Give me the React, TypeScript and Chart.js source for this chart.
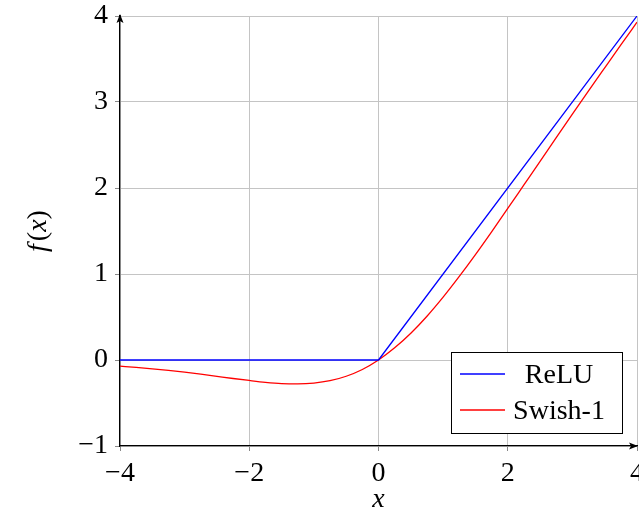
import React, { useEffect, useRef } from 'react';
import { Chart, registerables } from 'chart.js';
Chart.register(...registerables);

const swishX = [-4, -3.75, -3.5, -3.25, -3, -2.75, -2.5, -2.25, -2, -1.75, -1.5, -1.25, -1, -0.75, -0.5, -0.25, 0, 0.25, 0.5, 0.75, 1, 1.25, 1.5, 1.75, 2, 2.25, 2.5, 2.75, 3, 3.25, 3.5, 3.75, 4];
const swishY = [-0.072, -0.086, -0.103, -0.121, -0.142, -0.165, -0.19, -0.215, -0.238, -0.259, -0.274, -0.278, -0.269, -0.241, -0.189, -0.11, 0, 0.141, 0.311, 0.509, 0.731, 0.972, 1.226, 1.491, 1.762, 2.036, 2.31, 2.585, 2.858, 3.129, 3.397, 3.664, 3.928];
const reluX = [-4, 0, 4];
const reluY = [0, 0, 4];
const xTicks = [-4, -2, 0, 2, 4];
const yTicks = [-1, 0, 1, 2, 3, 4];
const seriesLabels = ['ReLU', 'Swish-1'];
const seriesColors = ['#0000ff', '#ff0000'];

const FONT = '"Liberation Serif"';
const FS = 28;
const fmt = (v: number) => (v < 0 ? '\u2212' + Math.abs(v) : String(v));

const decorPlugin = {
  id: 'decor',
  afterDraw(chart: any) {
    const ctx = chart.ctx;
    const { left, right, top, bottom } = chart.chartArea;
    ctx.save();
    ctx.fillStyle = '#000';
    ctx.strokeStyle = '#000';
    ctx.lineWidth = 1.3;
    ctx.beginPath();
    ctx.moveTo(left, top + 4);
    ctx.lineTo(left, top - 1);
    ctx.stroke();
    ctx.beginPath();
    ctx.moveTo(left, top - 2);
    ctx.lineTo(left - 3.5, top + 7);
    ctx.lineTo(left, top + 5);
    ctx.lineTo(left + 3.5, top + 7);
    ctx.closePath();
    ctx.fill();
    ctx.beginPath();
    ctx.moveTo(right + 1, bottom);
    ctx.lineTo(right - 8, bottom - 3.5);
    ctx.lineTo(right - 6, bottom);
    ctx.lineTo(right - 8, bottom + 3.5);
    ctx.closePath();
    ctx.fill();

    ctx.fillStyle = '#000';
    ctx.textBaseline = 'alphabetic';
    const italic = 'italic ' + FS + 'px ' + FONT;
    const normal = FS + 'px ' + FONT;
    const parts: [string, string][] = [[italic, 'f'], [normal, '('], [italic, 'x'], [normal, ')']];
    let total = 0;
    const widths = parts.map(([f, t]) => {
      ctx.font = f;
      const w = ctx.measureText(t).width + (t === 'f' ? 3 : 0);
      total += w;
      return w;
    });
    ctx.save();
    ctx.translate(46, (top + bottom) / 2);
    ctx.rotate(-Math.PI / 2);
    let px = -total / 2;
    parts.forEach(([f, t], i) => {
      ctx.font = f;
      ctx.textAlign = 'left';
      ctx.fillText(t, px, 0);
      px += widths[i];
    });
    ctx.restore();

    ctx.font = italic;
    ctx.textAlign = 'center';
    ctx.fillText('x', (left + right) / 2, 507);

    const bx = 451, by = 352, bw = 171, bh = 81;
    ctx.fillStyle = '#fff';
    ctx.fillRect(bx, by, bw, bh);
    ctx.strokeStyle = '#000';
    ctx.lineWidth = 1;
    ctx.strokeRect(bx + 0.5, by + 0.5, bw, bh);
    const rows = [374, 410];
    const baselines = [383, 419];
    seriesLabels.forEach((lab, i) => {
      ctx.strokeStyle = seriesColors[i];
      ctx.lineWidth = 1.3;
      ctx.beginPath();
      ctx.moveTo(460, rows[i]);
      ctx.lineTo(505, rows[i]);
      ctx.stroke();
      ctx.fillStyle = '#000';
      ctx.font = normal;
      ctx.textAlign = 'center';
      ctx.fillText(lab, 559, baselines[i]);
    });
    ctx.restore();
  },
};

export default function App() {
  const ref = useRef<HTMLCanvasElement>(null);
  useEffect(() => {
    if (!ref.current) return;
    const chart = new Chart(ref.current, {
      type: 'line',
      data: {
        datasets: [
          {
            label: seriesLabels[0],
            data: reluX.map((x, i) => ({ x, y: reluY[i] })),
            borderColor: seriesColors[0],
            borderWidth: 1.3,
            pointRadius: 0,
            fill: false,
          },
          {
            label: seriesLabels[1],
            data: swishX.map((x, i) => ({ x, y: swishY[i] })),
            borderColor: seriesColors[1],
            borderWidth: 1.3,
            pointRadius: 0,
            fill: false,
            cubicInterpolationMode: 'monotone',
          },
        ],
      },
      options: {
        responsive: false,
        animation: false,
        font: { family: FONT },
        layout: { padding: { top: 16, right: 2, left: 0, bottom: 0 } },
        plugins: { legend: { display: false }, tooltip: { enabled: false } },
        scales: {
          x: {
            type: 'linear',
            min: -4,
            max: 4,
            afterBuildTicks: (s: any) => { s.ticks = xTicks.map((v) => ({ value: v })); },
            afterFit: (s: any) => { s.height = 67; s.paddingLeft = 0; s.paddingRight = 0; },
            ticks: { callback: (v: any) => fmt(Number(v)), font: { family: FONT, size: FS }, color: '#000', padding: 6, maxRotation: 0 },
            grid: { color: '#c4c4c4', lineWidth: 1, tickLength: 5, tickColor: '#888' },
            border: { display: true, color: '#000', width: 1.3 },
          },
          y: {
            type: 'linear',
            min: -1,
            max: 4,
            afterBuildTicks: (s: any) => { s.ticks = yTicks.map((v) => ({ value: v })); },
            afterFit: (s: any) => { s.width = 120; s.paddingTop = 0; s.paddingBottom = 0; },
            ticks: { callback: (v: any) => fmt(Number(v)), font: { family: FONT, size: FS }, color: '#000', padding: 7 },
            grid: { color: '#c4c4c4', lineWidth: 1, tickLength: 5, tickColor: '#888' },
            border: { display: true, color: '#000', width: 1.3 },
          },
        },
      },
      plugins: [decorPlugin],
    } as any);
    return () => chart.destroy();
  }, []);
  return (
    <div style={{ position: 'absolute', left: 0, top: 0, width: 639, height: 513, background: '#fff' }}>
      <canvas ref={ref} width={639} height={513} />
    </div>
  );
}
